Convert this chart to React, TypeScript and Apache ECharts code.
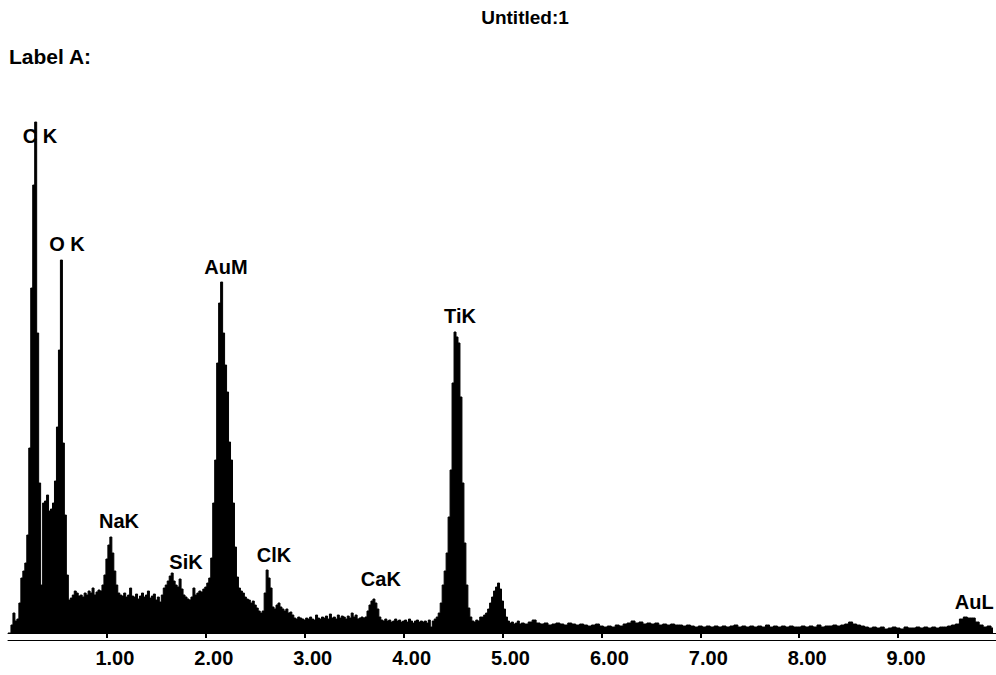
import React, { useEffect, useRef } from 'react';
import * as echarts from 'echarts';

// EDS spectrum, counts per channel (arbitrary units)
const LOW_STEP = 0.02; // keV, channels 0.00 .. 5.18
const HIGH_START = 5.2;
const HIGH_STEP = 0.04; // keV, channels 5.20 .. 9.96

const lowCounts = [
  0, 0, 8, 20, 12, 14, 30, 55, 62, 70,
  98, 185, 345, 448, 511, 300, 150, 48, 130, 132,
  138, 122, 124, 130, 152, 206, 283, 373, 190, 118,
  58, 33, 35, 38, 42, 40, 37, 38, 36, 40,
  38, 42, 40, 45, 38, 41, 43, 42, 48, 58,
  74, 88, 96, 80, 62, 48, 40, 38, 37, 40,
  36, 38, 45, 37, 36, 39, 34, 37, 40, 36,
  38, 42, 35, 37, 39, 33, 36, 31, 38, 45,
  48, 52, 57, 60, 52, 48, 46, 54, 44, 38,
  36, 34, 33, 36, 45, 38, 40, 42, 41, 44,
  46, 50, 55, 75, 130, 173, 270, 330, 351, 300,
  268, 241, 191, 173, 130, 86, 56, 45, 42, 40,
  36, 34, 33, 30, 32, 28, 25, 22, 20, 22,
  40, 63, 55, 45, 26, 24, 28, 30, 26, 24,
  22, 24, 20, 21, 18, 15, 14, 16, 15, 14,
  13, 15, 14, 16, 14, 13, 18, 15, 14, 16,
  15, 17, 14, 19, 15, 16, 14, 18, 15, 17,
  16, 14, 17, 15, 20, 16, 18, 14, 15, 16,
  15, 16, 22, 28, 32, 34, 30, 24, 16, 13,
  12, 14, 12, 13, 11, 12, 14, 12, 13, 11,
  12, 13, 11, 14, 12, 10, 12, 13, 11, 12,
  11, 12, 10, 13, 6, 12, 14, 16, 20, 30,
  48, 62, 80, 116, 163, 250, 301, 296, 290, 236,
  150, 90, 48, 25, 16, 12, 11, 13, 12, 16,
  16, 18, 20, 24, 30, 36, 42, 46, 50, 44,
  32, 24, 16, 12, 10, 11, 9, 10, 12, 9,
];

const highCounts = [
  10, 9, 11, 13, 10, 9, 10, 8, 9, 10,
  9, 8, 10, 9, 8, 9, 8, 7, 8, 9,
  7, 6, 7, 6, 8, 7, 9, 10, 12, 10,
  11, 9, 10, 9, 10, 8, 9, 8, 9, 8,
  8, 7, 8, 7, 6, 7, 6, 7, 6, 7,
  6, 7, 6, 7, 8, 6, 7, 6, 7, 6,
  7, 6, 8, 6, 7, 6, 7, 6, 7, 6,
  6, 7, 6, 7, 6, 8, 6, 7, 7, 8,
  7, 8, 9, 11, 9, 8, 7, 6, 5, 6,
  5, 6, 4, 5, 6, 5, 4, 6, 5, 5,
  6, 5, 6, 5, 6, 5, 6, 6, 7, 8,
  9, 14, 16, 15, 15, 11, 8, 6, 7, 5,
];

const tickValues = [1, 2, 3, 4, 5, 6, 7, 8, 9];

const peakNames = ['C K', 'O K', 'NaK', 'SiK', 'AuM', 'ClK', 'CaK', 'TiK', 'AuL'];
const peakLabelEnergy = [0.324, 0.597, 1.122, 1.8, 2.204, 2.69, 3.77, 4.57, 9.77];
const peakLabelCounts = [497, 389, 112, 71, 366, 78, 54, 317, 31];

const FONT = '"Liberation Sans", Arial, Helvetica, sans-serif';

export default function App() {
  const ref = useRef<HTMLDivElement>(null);

  useEffect(() => {
    const chart = echarts.init(ref.current!, null, { renderer: 'svg' });

    const spectrum: number[][] = [];
    lowCounts.forEach((c, i) => spectrum.push([+(i * LOW_STEP).toFixed(2), c]));
    highCounts.forEach((c, i) => spectrum.push([+(HIGH_START + i * HIGH_STEP).toFixed(2), c]));

    const labels = peakNames.map((n, i) => ({
      name: n,
      value: [peakLabelEnergy[i], peakLabelCounts[i]],
    }));

    chart.setOption({
      animation: false,
      backgroundColor: '#ffffff',
      grid: { left: 8, right: 0, top: 100, bottom: 42 },
      graphic: [
        {
          type: 'text',
          x: 525,
          y: 17,
          style: {
            text: 'Untitled:1',
            fill: '#000',
            font: `bold 19px ${FONT}`,
            align: 'center',
            verticalAlign: 'middle',
          },
        },
        {
          type: 'text',
          x: 9,
          y: 56,
          style: {
            text: 'Label A:',
            fill: '#000',
            font: `bold 21px ${FONT}`,
            align: 'left',
            verticalAlign: 'middle',
          },
        },
      ],
      xAxis: [
        {
          type: 'value',
          min: 0,
          max: 9.99,
          offset: 5,
          axisLine: { show: true, lineStyle: { color: '#000', width: 1 } },
          axisTick: {
            show: true,
            customValues: tickValues,
            length: 5,
            lineStyle: { color: '#000', width: 2 },
          },
          axisLabel: {
            show: true,
            customValues: tickValues,
            formatter: (v: number) => v.toFixed(2),
            color: '#000',
            fontFamily: FONT,
            fontWeight: 'bold',
            fontSize: 20,
            margin: 10,
            padding: [0, 0, 0, 16],
          },
          splitLine: { show: false },
        },
        {
          type: 'value',
          min: 0,
          max: 9.99,
          offset: 7,
          position: 'bottom',
          axisLine: { show: true, lineStyle: { color: '#000', width: 1 } },
          axisTick: { show: false },
          axisLabel: { show: false },
          splitLine: { show: false },
        },
      ],
      yAxis: {
        type: 'value',
        min: 0,
        max: 533,
        show: false,
        splitLine: { show: false },
      },
      series: [
        {
          type: 'line',
          name: 'spectrum',
          data: spectrum,
          step: 'middle',
          showSymbol: false,
          symbol: 'none',
          silent: true,
          lineStyle: { color: '#000', width: 1 },
          areaStyle: { color: '#000', opacity: 1 },
          z: 2,
        },
        {
          type: 'scatter',
          name: 'peaks',
          data: labels,
          symbol: 'circle',
          symbolSize: 0,
          silent: true,
          itemStyle: { color: '#000', opacity: 1 },
          label: {
            show: true,
            position: 'inside',
            formatter: '{b}',
            color: '#000',
            opacity: 1,
            textBorderWidth: 0,
            fontFamily: FONT,
            fontWeight: 'bold',
            fontSize: 20,
          },
          z: 3,
        },
      ],
    });

    return () => chart.dispose();
  }, []);

  return (
    <div
      ref={ref}
      style={{ position: 'fixed', left: 0, top: 0, width: 996, height: 675, background: '#fff' }}
    />
  );
}
